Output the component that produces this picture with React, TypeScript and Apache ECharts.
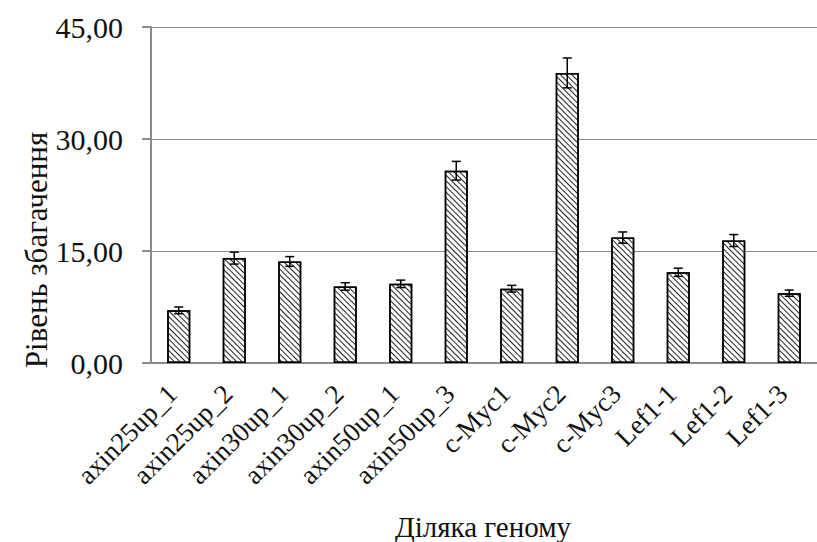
import React, { useEffect, useRef } from "react";
import * as echarts from "echarts";

const categories = [
  "axin25up_1", "axin25up_2", "axin30up_1", "axin30up_2", "axin50up_1", "axin50up_3",
  "c-Myc1", "c-Myc2", "c-Myc3", "Lef1-1", "Lef1-2", "Lef1-3",
];
const values = [7.05, 14.05, 13.6, 10.25, 10.6, 25.75, 9.95, 38.85, 16.8, 12.15, 16.4, 9.35];
const errors = [0.45, 0.8, 0.65, 0.5, 0.5, 1.25, 0.45, 2.0, 0.75, 0.55, 0.8, 0.42];
const yTicks = [0, 15, 30, 45];
const xTitle = "Діляка геному";
const yTitle = "Рівень збагачення";

const FONT = "Liberation Serif";
const CYR_FONT = "Liberation Serif, DejaVu Serif, serif";

export default function App() {
  const ref = useRef<HTMLDivElement>(null);
  useEffect(() => {
    if (!ref.current) return;
    const chart = echarts.init(ref.current, undefined, { renderer: "svg" });
    const errData = values.map((v, i) => [i, v - errors[i], v + errors[i]]);
    chart.setOption({
      animation: false,
      backgroundColor: "#fff",
      grid: { left: 151, right: -8, top: 27, bottom: 179, containLabel: false },
      xAxis: {
        type: "category",
        data: categories,
        axisLine: { show: true, lineStyle: { color: "#8a8a8a", width: 2 } },
        axisTick: { show: false },
        axisLabel: {
          rotate: 45,
          margin: 20,
          padding: [0, 9, 0, 0],
          interval: 0,
          fontFamily: FONT,
          fontSize: 27,
          color: "#111",
        },
      },
      yAxis: {
        type: "value",
        min: yTicks[0],
        max: yTicks[yTicks.length - 1],
        interval: 15,
        axisLine: { show: true, lineStyle: { color: "#8a8a8a", width: 2 } },
        axisTick: { show: true, length: 9, lineStyle: { color: "#8a8a8a", width: 2 } },
        splitLine: { show: true, lineStyle: { color: "#8c8c8c", width: 1 } },
        axisLabel: {
          margin: 28,
          fontFamily: FONT,
          fontSize: 30,
          color: "#111",
          formatter: (v: number) => v.toFixed(2).replace(".", ","),
        },
      },
      graphic: [
        {
          type: "text",
          x: 483,
          y: 541,
          style: {
            text: xTitle,
            fontFamily: CYR_FONT,
            fontSize: 29,
            fill: "#111",
            textAlign: "center",
            textVerticalAlign: "bottom",
          },
        },
        {
          type: "text",
          x: 36,
          y: 250,
          rotation: Math.PI / 2,
          style: {
            text: yTitle,
            fontFamily: CYR_FONT,
            fontSize: 31,
            fill: "#111",
            textAlign: "center",
            textVerticalAlign: "middle",
          },
        },
      ],
      series: [
        {
          type: "bar",
          data: values,
          barWidth: 23,
          itemStyle: {
            color: "#fff",
            borderColor: "#000",
            borderWidth: 1.5,
            decal: {
              symbol: "rect",
              symbolSize: 1,
              color: "#222",
              backgroundColor: "#fff",
              dashArrayX: [1, 0],
              dashArrayY: [1, 2.6],
              rotation: Math.PI / 4,
            },
          },
          z: 2,
        },
        {
          type: "custom",
          data: errData,
          z: 5,
          renderItem: (params: any, api: any) => {
            const x = api.value(0);
            const lo = api.coord([x, api.value(1)]);
            const hi = api.coord([x, api.value(2)]);
            const hw = 4.5;
            const style = { stroke: "#000", lineWidth: 1.5 };
            return {
              type: "group",
              children: [
                { type: "line", shape: { x1: lo[0], y1: lo[1], x2: hi[0], y2: hi[1] }, style },
                { type: "line", shape: { x1: hi[0] - hw, y1: hi[1], x2: hi[0] + hw, y2: hi[1] }, style },
                { type: "line", shape: { x1: lo[0] - hw, y1: lo[1], x2: lo[0] + hw, y2: lo[1] }, style },
              ],
            };
          },
        },
      ],
    });
    return () => chart.dispose();
  }, []);
  return <div ref={ref} style={{ width: 817, height: 542, position: "absolute", left: 0, top: 0 }} />;
}
